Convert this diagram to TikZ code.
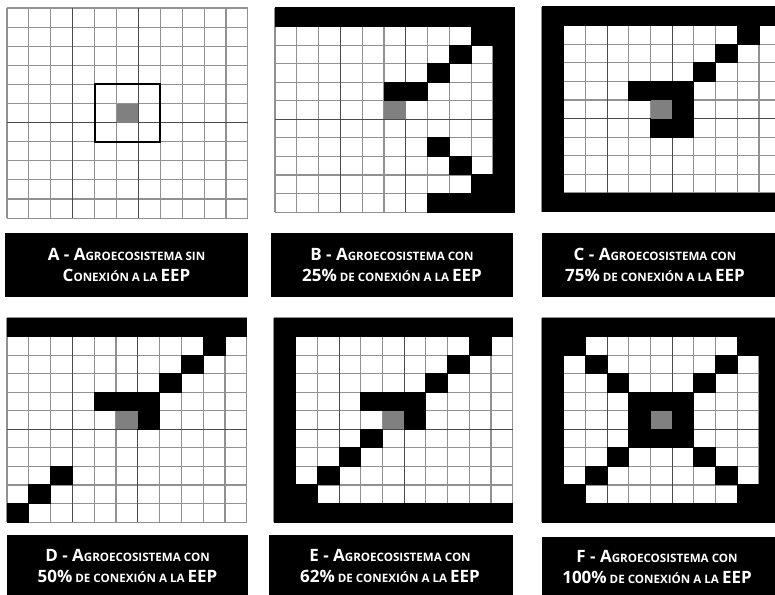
\documentclass[tikz,border=0pt]{standalone}
\usepackage{fontspec}
\newfontfamily\labfont{Open Sans}
\definecolor{gline}{RGB}{145,145,145}
\definecolor{dline}{RGB}{75,75,75}
\definecolor{centre}{RGB}{128,128,128}
\newcommand\BigL[1]{{\fontsize{17}{21.5}\selectfont #1}}
\newcommand\SmL[1]{{\fontsize{11.6}{21.5}\selectfont #1}}
\newcommand\gridbase[4]{%
  \fill[white] (#1,#2) rectangle ++({11*#3},{11*#4});
  \foreach \k in {0,...,11}{
    \draw[gridln] ({#1+\k*#3},#2) -- ++(0,{11*#4});
    \draw[gridln] (#1,{#2+\k*#4}) -- ++({11*#3},0);
  }
  \foreach \k in {3,6}{\draw[darkln] ({#1+\k*#3},#2) -- ++(0,{11*#4});}
  \draw[darkln] (#1,{#2+6*#4}) -- ++({11*#3},0);
}
\newcommand\blackcells[5]{%
  \foreach \ra/\ca/\rb/\cb in {#5}{
    \fill[black] ({#1+\ca*#3-0.5},{#2+\ra*#4-0.5}) rectangle ({#1+(\cb+1)*#3+0.5},{#2+(\rb+1)*#4+0.5});
  }
}
\newcommand\centrecell[4]{%
  \fill[centre] ({#1+5*#3},{#2+5*#4}) rectangle ++(#3,#4);
}
\tikzset{
  gridln/.style={draw=gline,line width=1.1pt},
  darkln/.style={draw=dline,line width=1.2pt},
  labbox/.style={fill=black,draw=none,inner sep=0pt,minimum height=64pt},
  labtext/.style={text=white,align=center,inner sep=0pt,font=\labfont\bfseries\fontsize{17}{21.5}\selectfont},
}
\begin{document}
\begin{tikzpicture}[x=1pt,y=-1pt]
\useasboundingbox (0,0) rectangle (775,594);
\clip (0,0) rectangle (775,594);
\fill[white] (0,0) rectangle (775,594);
% ---- A ----
\gridbase{7}{8}{21.9}{19.1}
\centrecell{7}{8}{21.9}{19.1}
\draw[black,line width=2pt] ({7+4*21.9},{8+4*19.1}) rectangle ({7+7*21.9},{8+7*19.1});
% ---- B ----
\gridbase{275}{8}{21.8}{18.55}
\blackcells{275}{8}{21.8}{18.55}{0/0/0/10, 0/9/1/10, 2/8/2/8, 3/7/3/7, 4/5/4/6, 0/10/10/10, 7/7/7/7, 8/8/8/8, 9/9/10/10, 10/7/10/10}
\centrecell{275}{8}{21.8}{18.55}
% ---- C ----
\gridbase{542}{7}{21.7}{18.6}
\blackcells{542}{7}{21.7}{18.6}{0/0/0/10, 0/0/10/0, 10/0/10/10, 1/9/1/9, 2/8/2/8, 3/7/3/7, 4/4/4/6, 5/6/6/6, 6/5/6/6}
\centrecell{542}{7}{21.7}{18.6}
% ---- D ----
\gridbase{7}{318}{21.8}{18.55}
\blackcells{7}{318}{21.8}{18.55}{0/0/0/10, 1/9/1/9, 2/8/2/8, 3/7/3/7, 4/4/4/6, 5/6/5/6, 8/2/8/2, 9/1/9/1, 10/0/10/0}
\centrecell{7}{318}{21.8}{18.55}
% ---- E ----
\gridbase{274}{318}{21.7}{18.55}
\blackcells{274}{318}{21.7}{18.55}{0/0/0/10, 0/0/10/0, 10/0/10/10, 1/9/1/9, 2/8/2/8, 3/7/3/7, 4/4/4/6, 5/6/5/6, 6/4/6/4, 7/3/7/3, 8/2/8/2, 9/1/9/1}
\centrecell{274}{318}{21.7}{18.55}
% ---- F ----
\gridbase{542}{318}{21.7}{18.55}
\blackcells{542}{318}{21.7}{18.55}{0/0/0/10, 10/0/10/10, 0/0/10/0, 0/10/10/10, 1/1/1/1, 1/9/1/9, 9/1/9/1, 9/9/9/9, 2/2/2/2, 2/8/2/8, 8/2/8/2, 8/8/8/8, 3/3/3/3, 3/7/3/7, 7/3/7/3, 7/7/7/7, 4/4/6/6}
\centrecell{542}{318}{21.7}{18.55}
% ---- labels ----
\node[labbox,minimum width=243pt] (boxA) at (126.5,265) {};
\node[labbox,minimum width=242pt] (boxB) at (392,265) {};
\node[labbox,minimum width=248pt] (boxC) at (666,265) {};
\node[labbox,minimum width=241pt,minimum height=70pt] (boxD) at (127.5,570) {};
\node[labbox,minimum width=244pt,minimum height=70pt] (boxE) at (391,570) {};
\node[labbox,minimum width=248pt,minimum height=70pt] (boxF) at (666,572) {};
\node[labtext] (labA) at (126.5,265) {\BigL{A - A}\SmL{GROECOSISTEMA SIN}\\\BigL{C}\SmL{ONEXIÓN A LA }\BigL{EEP}};
\node[labtext] (labB) at (392,265) {\BigL{B - A}\SmL{GROECOSISTEMA CON}\\\BigL{25\%}\SmL{ DE CONEXIÓN A LA }\BigL{EEP}};
\node[labtext] (labC) at (655,265) {\BigL{C - A}\SmL{GROECOSISTEMA CON}\\\BigL{75\%}\SmL{ DE CONEXIÓN A LA }\BigL{EEP}};
\node[labtext] (labD) at (127.5,566) {\BigL{D - A}\SmL{GROECOSISTEMA CON}\\\BigL{50\%}\SmL{ DE CONEXIÓN A LA }\BigL{EEP}};
\node[labtext] (labE) at (390,566) {\BigL{E - A}\SmL{GROECOSISTEMA CON}\\\BigL{62\%}\SmL{ DE CONEXIÓN A LA }\BigL{EEP}};
\node[labtext] (labF) at (657,567) {\BigL{F - A}\SmL{GROECOSISTEMA CON}\\\BigL{100\%}\SmL{ DE CONEXIÓN A LA }\BigL{EEP}};
\end{tikzpicture}
\end{document}
